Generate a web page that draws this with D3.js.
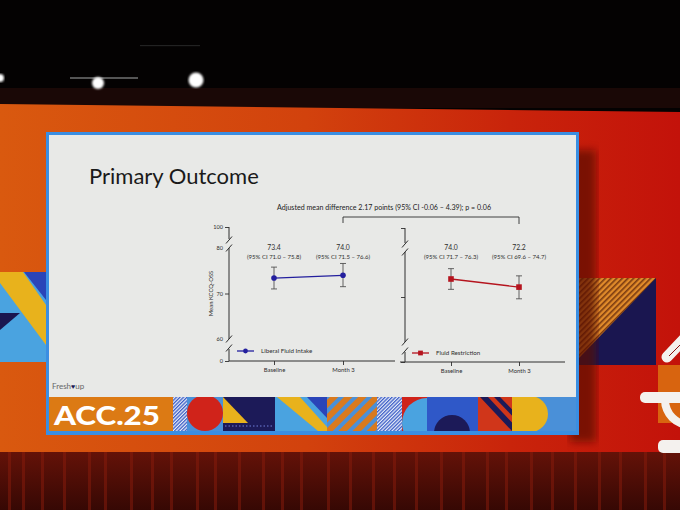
<!DOCTYPE html>
<html><head><meta charset="utf-8">
<script src="https://cdn.jsdelivr.net/npm/d3@7"></script>
<style>body{margin:0;background:#000}svg{display:block}</style>
</head><body>
<svg id="c" width="680" height="510"></svg>
<script>
// ---------- data ----------
const timepoints = ["Baseline", "Month 3"];
const liberalMean = [73.4, 74.0];
const liberalLow = [71.0, 71.5];
const liberalHigh = [75.8, 76.6];
const restrictMean = [74.0, 72.2];
const restrictLow = [71.7, 69.6];
const restrictHigh = [76.3, 74.7];
const yTicks = [0, 60, 70, 80, 100];
const yBreakDomain = [0, 60, 80, 100];
const seriesNames = ["Liberal Fluid Intake", "Fluid Restriction"];
const titleText = "Primary Outcome";
const diffNote = "Adjusted mean difference 2.17 points (95% CI -0.06 – 4.39); p = 0.06";
const yLabel = "Mean KCCQ-OSS";

const svg = d3.select("#c");
const defs = svg.append("defs");
const FONT = "Lato, 'Open Sans', sans-serif";

// ---------- room / background ----------
const wallG = defs.append("linearGradient").attr("id", "wall").attr("x1", 0).attr("x2", 1).attr("y1", 0).attr("y2", 0);
[["0%", "#d9590f"], ["45%", "#d2420d"], ["75%", "#c9240b"], ["100%", "#c3120a"]].forEach(s => wallG.append("stop").attr("offset", s[0]).attr("stop-color", s[1]));
const curtG = defs.append("linearGradient").attr("id", "curt").attr("x1", 0).attr("x2", 0).attr("y1", 0).attr("y2", 1);
[["0%", "#641208"], ["100%", "#360804"]].forEach(s => curtG.append("stop").attr("offset", s[0]).attr("stop-color", s[1]));
defs.append("filter").attr("id", "blur").append("feGaussianBlur").attr("stdDeviation", 4);
defs.append("filter").attr("id", "glow").append("feGaussianBlur").attr("stdDeviation", 1.2);
const hatch = defs.append("pattern").attr("id", "hatchO").attr("width", 4).attr("height", 4).attr("patternUnits", "userSpaceOnUse").attr("patternTransform", "rotate(45)");
hatch.append("rect").attr("width", 4).attr("height", 4).attr("fill", "#e08a2a");
hatch.append("rect").attr("width", 1.6).attr("height", 4).attr("fill", "#7a3a10");
const hatchB = defs.append("pattern").attr("id", "hatchB").attr("width", 2.5).attr("height", 2.5).attr("patternUnits", "userSpaceOnUse").attr("patternTransform", "rotate(45)");
hatchB.append("rect").attr("width", 2.5).attr("height", 2.5).attr("fill", "#e8eef8");
hatchB.append("rect").attr("width", 1.3).attr("height", 2.5).attr("fill", "#3f5fc8");
const stripeOB = defs.append("pattern").attr("id", "stripeOB").attr("width", 10).attr("height", 10).attr("patternUnits", "userSpaceOnUse").attr("patternTransform", "rotate(45)");
stripeOB.append("rect").attr("width", 10).attr("height", 10).attr("fill", "#d97a1e");
stripeOB.append("rect").attr("width", 4).attr("height", 10).attr("fill", "#4a90d8");

svg.append("rect").attr("width", 680).attr("height", 510).attr("fill", "#040202");
// truss band
svg.append("rect").attr("x", 0).attr("y", 88).attr("width", 680).attr("height", 20).attr("fill", "#1a0806");
svg.append("rect").attr("x", 70).attr("y", 77).attr("width", 68).attr("height", 2).attr("fill", "#555");
svg.append("rect").attr("x", 140).attr("y", 45).attr("width", 60).attr("height", 1.2).attr("fill", "#222");
[[0, 78, 4], [98, 83, 6], [196, 80, 7.5]].forEach(l => {
  svg.append("circle").attr("cx", l[0]).attr("cy", l[1]).attr("r", l[2]).attr("fill", "#fff").attr("filter", "url(#glow)");
});
// wall
svg.append("path").attr("d", "M0,104 L680,112 L680,455 L0,455 Z").attr("fill", "url(#wall)");
// curtains
svg.append("rect").attr("x", 0).attr("y", 452).attr("width", 680).attr("height", 58).attr("fill", "url(#curt)");
const curtainX = [8, 22, 41, 63, 88, 104, 130, 151, 170, 196, 214, 238, 262, 281, 300, 327, 349, 372, 393, 415, 440, 462, 486, 505, 530, 551, 574, 598, 619, 644, 663];
svg.selectAll(".cs").data(curtainX).join("rect").attr("x", d => d).attr("y", 452).attr("width", 3).attr("height", 58)
  .attr("fill", "#8a1c0c").attr("opacity", 0.5);

// left decoration
svg.append("rect").attr("x", 0).attr("y", 272).attr("width", 46).attr("height", 90).attr("fill", "#4aa3e0");
svg.append("path").attr("d", "M0,272 L23,272 L46,305 L46,345 L0,283 Z").attr("fill", "#e8b21c");
svg.append("path").attr("d", "M24,272 L46,272 L46,300 Z").attr("fill", "#2a44b8");
svg.append("path").attr("d", "M0,313 L20,313 L0,330 Z").attr("fill", "#1a1650");
// right decoration
svg.append("rect").attr("x", 577).attr("y", 278).attr("width", 79).attr("height", 87).attr("fill", "#1a1650");
svg.append("path").attr("d", "M577,278 L656,278 L577,360 Z").attr("fill", "url(#hatchO)");
svg.append("rect").attr("x", 658).attr("y", 365).attr("width", 22).attr("height", 58).attr("fill", "#d8640f");
svg.append("line").attr("x1", 667).attr("y1", 357).attr("x2", 686).attr("y2", 337).attr("stroke", "#f4f1ee").attr("stroke-width", 11).attr("stroke-linecap", "round");
svg.append("line").attr("x1", 669).attr("y1", 356).attr("x2", 684).attr("y2", 341).attr("stroke", "#8a1010").attr("stroke-width", 1);
svg.append("path").attr("transform", "translate(690,400)")
  .attr("d", d3.arc().innerRadius(21).outerRadius(29).startAngle(Math.PI).endAngle(1.5 * Math.PI)()).attr("fill", "#f4f1ee");
svg.append("rect").attr("x", 640).attr("y", 392).attr("width", 45).attr("height", 11).attr("rx", 5).attr("fill", "#f4f1ee");
svg.append("rect").attr("x", 658).attr("y", 440).attr("width", 30).attr("height", 13).attr("rx", 5).attr("fill", "#f4f1ee");

// slide shadow
svg.append("rect").attr("x", 570).attr("y", 150).attr("width", 26).attr("height", 292).attr("fill", "#5a0805").attr("opacity", 0.7).attr("filter", "url(#blur)");

// ---------- slide ----------
svg.append("rect").attr("x", 46).attr("y", 132).attr("width", 533).attr("height", 303).attr("fill", "#3a8ee2");
svg.append("rect").attr("x", 49).attr("y", 135).attr("width", 527).attr("height", 262).attr("fill", "#e8e9e7");

// banner
const bY = 397, bH = 34;
const banner = svg.append("g");
banner.append("clipPath").attr("id", "bclip").append("rect").attr("x", 49).attr("y", bY).attr("width", 527).attr("height", bH);
const bg = banner.append("g").attr("clip-path", "url(#bclip)");
bg.append("rect").attr("x", 49).attr("y", bY).attr("width", 527).attr("height", bH).attr("fill", "#4a90d8");
bg.append("rect").attr("x", 49).attr("y", bY).attr("width", 124).attr("height", bH).attr("fill", "#dc7a14");
bg.append("rect").attr("x", 173).attr("y", bY).attr("width", 14).attr("height", bH).attr("fill", "url(#hatchB)");
bg.append("rect").attr("x", 187).attr("y", bY).attr("width", 36).attr("height", bH).attr("fill", "#4a90d8");
bg.append("circle").attr("cx", 205).attr("cy", 413).attr("r", 18).attr("fill", "#d0231a");
bg.append("rect").attr("x", 223).attr("y", bY).attr("width", 52).attr("height", bH).attr("fill", "#1c1a58");
bg.append("path").attr("d", `M223,${bY} L248,423 L223,423 Z`).attr("fill", "#e8b21c");
bg.append("line").attr("x1", 225).attr("x2", 273).attr("y1", 426).attr("y2", 426).attr("stroke", "#6f7fd8").attr("stroke-width", 1).attr("stroke-dasharray", "1.5,2");
bg.append("rect").attr("x", 275).attr("y", bY).attr("width", 52).attr("height", bH).attr("fill", "#4aa3e0");
bg.append("path").attr("d", `M277,${bY} L300,${bY} L327,427 L327,431 L318,431 Z`).attr("fill", "#e8b21c");
bg.append("path").attr("d", `M307,${bY} L327,${bY} L327,418 Z`).attr("fill", "#2a44b8");
bg.append("rect").attr("x", 327).attr("y", bY).attr("width", 50).attr("height", bH).attr("fill", "url(#stripeOB)");
bg.append("rect").attr("x", 377).attr("y", bY).attr("width", 25).attr("height", bH).attr("fill", "url(#hatchB)");
bg.append("rect").attr("x", 402).attr("y", bY).attr("width", 25).attr("height", bH).attr("fill", "#d0231a");
bg.append("circle").attr("cx", 427).attr("cy", 423).attr("r", 25).attr("fill", "#4aa3e0");
bg.append("rect").attr("x", 427).attr("y", bY).attr("width", 51).attr("height", bH).attr("fill", "#2f58c8");
bg.append("circle").attr("cx", 452).attr("cy", 433).attr("r", 18).attr("fill", "#1c1a58");
bg.append("rect").attr("x", 478).attr("y", bY).attr("width", 50).attr("height", bH).attr("fill", "#d0361a");
bg.append("path").attr("d", `M480,${bY} L488,${bY} L520,431 L512,431 Z`).attr("fill", "#1c1a58");
bg.append("path").attr("d", `M494,${bY} L500,${bY} L530,428 L524,428 Z`).attr("fill", "#1c1a58");
bg.append("rect").attr("x", 528).attr("y", bY).attr("width", 48).attr("height", bH).attr("fill", "#4a90d8");
bg.append("circle").attr("cx", 530).attr("cy", 414).attr("r", 18).attr("fill", "#e8b21c");
bg.append("rect").attr("x", 512).attr("y", bY).attr("width", 18).attr("height", bH).attr("fill", "#e8b21c");
banner.append("text").attr("x", 54).attr("y", 425).attr("fill", "#fff").attr("font-family", FONT).attr("font-weight", 900)
  .attr("font-size", 27).attr("textLength", 106).attr("lengthAdjust", "spacingAndGlyphs").text("ACC.25");
const fu = svg.append("text").attr("x", 52).attr("y", 389).attr("font-family", FONT).attr("font-size", 8).attr("fill", "#666");
fu.append("tspan").text("Fresh");
fu.append("tspan").attr("fill", "#1c1a58").attr("font-size", 7).text("♥");
fu.append("tspan").text("up");

// title
svg.append("text").attr("x", 89).attr("y", 184).attr("font-family", FONT).attr("font-size", 22).attr("fill", "#1a1a1a").text(titleText);

// ---------- chart ----------
const ink = "#2e2e2e";
const xL = d3.scalePoint().domain(timepoints).range([274, 343]);
const xR = d3.scalePoint().domain(timepoints).range([451, 519]);
const yL = d3.scaleLinear().domain(yBreakDomain).range([361, 339, 248, 227]);
const yR = d3.scaleLinear().domain(yBreakDomain).range([362, 342, 252, 228]);
const fmt = d3.format(".1f");

function yAxisBroken(g, x, y, labels) {
  const ax = d3.axisLeft(y).tickValues(yTicks).tickSize(4).tickPadding(2).tickFormat(labels ? d3.format("d") : () => "");
  const a = g.append("g").attr("transform", `translate(${x},0)`).call(ax);
  a.select(".domain").remove();
  a.selectAll(".tick line").attr("stroke", ink).attr("stroke-width", 0.9);
  a.selectAll(".tick").filter(d => d === 80 || d === 60).select("line").remove();
  a.selectAll(".tick text").attr("font-family", FONT).attr("font-size", 5.6).attr("fill", ink);
  const segs = [[y(100), y(80) - 9], [y(80), y(60)], [y(60) + 10, y(0)]];
  segs.forEach(s => g.append("line").attr("x1", x).attr("x2", x).attr("y1", s[0]).attr("y2", s[1]).attr("stroke", ink).attr("stroke-width", 1));
  [y(80) - 8, y(80), y(60), y(60) + 9].forEach(yy => g.append("line").attr("x1", x - 3).attr("x2", x + 3).attr("y1", yy + 3.5).attr("y2", yy - 3.5).attr("stroke", ink).attr("stroke-width", 1));
}
function xAxis(g, x, yPix, x0, x1) {
  const a = g.append("g").attr("transform", `translate(0,${yPix})`).call(d3.axisBottom(x).tickSize(4).tickPadding(3));
  a.select(".domain").remove();
  a.selectAll(".tick line").attr("stroke", ink).attr("stroke-width", 0.9);
  a.selectAll(".tick text").attr("font-family", FONT).attr("font-size", 5.9).attr("fill", ink);
  g.append("line").attr("x1", x0).attr("x2", x1).attr("y1", yPix).attr("y2", yPix).attr("stroke", ink).attr("stroke-width", 1);
}
function series(g, x, y, mean, lo, hi, color, marker) {
  const pts = timepoints.map((t, i) => ({ t, m: mean[i], lo: lo[i], hi: hi[i] }));
  pts.forEach(p => {
    const cx = x(p.t);
    g.append("line").attr("x1", cx).attr("x2", cx).attr("y1", y(p.lo)).attr("y2", y(p.hi)).attr("stroke", "#4a4a4a").attr("stroke-width", 0.85);
    [p.lo, p.hi].forEach(v => g.append("line").attr("x1", cx - 3).attr("x2", cx + 3).attr("y1", y(v)).attr("y2", y(v)).attr("stroke", "#4a4a4a").attr("stroke-width", 0.85));
  });
  g.append("path").datum(pts).attr("d", d3.line().x(d => x(d.t)).y(d => y(d.m))).attr("stroke", color).attr("stroke-width", 1.3).attr("fill", "none");
  pts.forEach(p => drawMarker(g, x(p.t), y(p.m), color, marker, 1));
  pts.forEach(p => {
    g.append("text").attr("x", x(p.t)).attr("y", 250).attr("text-anchor", "middle").attr("font-family", FONT).attr("font-size", 6.8).attr("fill", ink).text(fmt(p.m));
    g.append("text").attr("x", x(p.t)).attr("y", 259).attr("text-anchor", "middle").attr("font-family", FONT).attr("font-size", 6).attr("fill", ink)
      .text(`(95% CI ${fmt(p.lo)} – ${fmt(p.hi)})`);
  });
}
function drawMarker(g, cx, cy, color, marker, s) {
  if (marker === "circle") g.append("circle").attr("cx", cx).attr("cy", cy).attr("r", 2.8 * s).attr("fill", color);
  else g.append("rect").attr("x", cx - 2.8 * s).attr("y", cy - 2.8 * s).attr("width", 5.6 * s).attr("height", 5.6 * s).attr("fill", color);
}
function legend(g, x0, yy, color, marker, label) {
  g.append("line").attr("x1", x0).attr("x2", x0 + 17).attr("y1", yy).attr("y2", yy).attr("stroke", color).attr("stroke-width", 1.3);
  drawMarker(g, x0 + 8.5, yy, color, marker, 0.85);
  g.append("text").attr("x", x0 + 24).attr("y", yy + 2).attr("font-family", FONT).attr("font-size", 6.2).attr("fill", ink).text(label);
}

const chart = svg.append("g");
const blue = "#231f9e", red = "#b5141e";
// left panel
yAxisBroken(chart, 229, yL, true);
xAxis(chart, xL, 361, 229, 395);
series(chart, xL, yL, liberalMean, liberalLow, liberalHigh, blue, "circle");
legend(chart, 237, 351, blue, "circle", seriesNames[0]);
chart.append("text").attr("transform", `translate(213,${yL(70)}) rotate(-90)`).attr("text-anchor", "middle")
  .attr("font-family", FONT).attr("font-size", 5.9).attr("fill", ink).text(yLabel);
// right panel
yAxisBroken(chart, 405, yR, false);
xAxis(chart, xR, 362, 400, 565);
series(chart, xR, yR, restrictMean, restrictLow, restrictHigh, red, "square");
legend(chart, 412, 353, red, "square", seriesNames[1]);
// bracket
chart.append("path").attr("d", `M${xL(timepoints[1])},223 V217 H${xR(timepoints[1])} V224`).attr("fill", "none").attr("stroke", ink).attr("stroke-width", 0.9);
chart.append("text").attr("x", 384).attr("y", 210).attr("text-anchor", "middle").attr("font-family", FONT).attr("font-size", 7)
  .attr("fill", "#222").attr("textLength", 214).attr("lengthAdjust", "spacingAndGlyphs").text(diffNote);
</script>
</body></html>
